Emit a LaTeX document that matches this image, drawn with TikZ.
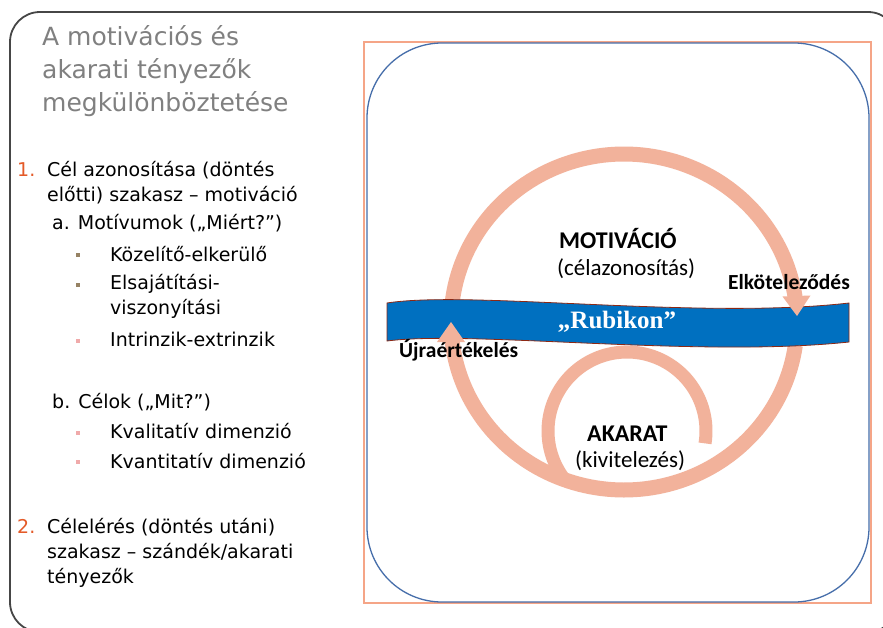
\documentclass[tikz,border=0pt]{standalone}
\usepackage{fontspec}
\setmainfont{DejaVu Sans}
\newfontfamily\calib{Carlito}
\newfontfamily\serifb{Liberation Serif}
\usetikzlibrary{arrows.meta}

\definecolor{arrowpink}{RGB}{242,178,155}
\definecolor{rubblue}{RGB}{0,112,192}
\definecolor{rubedge}{RGB}{140,40,20}
\definecolor{framegray}{RGB}{70,70,70}
\definecolor{orangerect}{RGB}{245,165,135}
\definecolor{bluerect}{RGB}{70,110,170}
\definecolor{titlegray}{RGB}{128,128,128}
\definecolor{numorange}{RGB}{228,90,40}
\definecolor{bulbrown}{RGB}{150,130,100}
\definecolor{bulpink}{RGB}{240,170,170}

\begin{document}
\begin{tikzpicture}[x=1pt,y=-1pt,
  titletext/.style={anchor=base west, inner sep=0pt, text=titlegray, font=\fontsize{25}{29}\selectfont},
  bodytext/.style={anchor=base west, inner sep=0pt, font=\fontsize{19}{22}\selectfont},
  numtext/.style={bodytext, text=numorange},
  labtext/.style={anchor=base west, inner sep=0pt, font=\calib\fontsize{23}{26}\selectfont},
  labbold/.style={anchor=base west, inner sep=0pt, font=\calib\bfseries\fontsize{24}{27}\selectfont},
  smallbold/.style={anchor=base west, inner sep=0pt, font=\calib\bfseries\fontsize{21.5}{24}\selectfont},
  shaft/.style={draw=arrowpink, line width=15pt},
  thinshaft/.style={draw=arrowpink, line width=13pt},
  headfill/.style={fill=arrowpink},
  bullet/.style={minimum size=4pt, inner sep=0pt, draw=none}
]
\useasboundingbox (0,0) rectangle (883,627);
\fill[white] (0,0) rectangle (883,627);

% outer frame
\draw[framegray, line width=1.8pt, rounded corners=30pt] (10,12) rectangle (898,632);

% right panel frames
\draw[orangerect, line width=1.2pt] (364,42) rectangle (871,603);
\draw[bluerect, line width=1.3pt, rounded corners=75pt] (367,43) rectangle (869,602);

% cycle arrows (shafts)
\draw[shaft] plot[domain=187:352, samples=90, variable=\t] ({624+173*cos(\t)},{322+168*sin(\t)});
\draw[shaft] plot[domain=8:174, samples=90, variable=\t] ({624+173*cos(\t)},{322+168*sin(\t)});
\draw[thinshaft] plot[domain=142:369, samples=90, variable=\t] ({627+79*cos(\t)},{431+79*sin(\t)});

% Rubicon band
\draw[fill=rubblue, draw=rubedge, line width=0.8pt] (387,303) .. controls (470,290) and (700,320) .. (849,303) -- (849,342) .. controls (700,358) and (470,330) .. (387,341) -- cycle;
\node[anchor=base, inner sep=0pt, text=white, font=\serifb\bfseries\fontsize{25}{28}\selectfont] (rub) at (617,328) {„Rubikon”};

% arrow heads above band
\coordinate (tipR) at (797,316);
\coordinate (tipL) at (451,322);
\fill[headfill] (tipR) -- (810.5,295.5) -- (782.5,296.5) -- cycle;
\fill[headfill] (tipL) -- (465,342) -- (437,342) -- cycle;

% diagram labels
\node[labbold] (mot) at (559,248) {MOTIVÁCIÓ};
\node[labtext] (motsub) at (557,275) {(célazonosítás)};
\node[smallbold] (elk) at (728,289) {Elköteleződés};
\node[smallbold] (ujra) at (399,357) {Újraértékelés};
\node[labbold] (akarat) at (587,441) {AKARAT};
\node[labtext] (kiv) at (575,467) {(kivitelezés)};

% left title
\node[titletext] (t1) at (42,45) {A motivációs és};
\node[titletext] (t2) at (42,78) {akarati tényezők};
\node[titletext] (t3) at (42,111) {megkülönböztetése};

% left list
\node[numtext] (n1) at (17,176) {1.};
\node[bodytext] (l1a) at (47,176) {Cél azonosítása (döntés};
\node[bodytext] (l1b) at (47,201) {előtti) szakasz – motiváció};
\node[bodytext] (la) at (52,229) {a. Motívumok („Miért?”)};
\node[bullet, fill=bulbrown] (b1) at (78,255) {};
\node[bodytext] (la1) at (110,261) {Közelítő-elkerülő};
\node[bullet, fill=bulbrown] (b2) at (78,285) {};
\node[bodytext] (la2) at (110,289) {Elsajátítási-};
\node[bodytext] (la2b) at (110,314) {viszonyítási};
\node[bullet, fill=bulpink] (b3) at (78,341) {};
\node[bodytext] (la3) at (110,346) {Intrinzik-extrinzik};
\node[bodytext] (lb) at (52,408) {b. Célok („Mit?”)};
\node[bullet, fill=bulpink] (b4) at (78,433) {};
\node[bodytext] (lb1) at (110,438) {Kvalitatív dimenzió};
\node[bullet, fill=bulpink] (b5) at (78,462) {};
\node[bodytext] (lb2) at (110,468) {Kvantitatív dimenzió};
\node[numtext] (n2) at (17,533) {2.};
\node[bodytext] (l2a) at (47,533) {Célelérés (döntés utáni)};
\node[bodytext] (l2b) at (47,558) {szakasz – szándék/akarati};
\node[bodytext] (l2c) at (47,583) {tényezők};
\end{tikzpicture}
\end{document}
